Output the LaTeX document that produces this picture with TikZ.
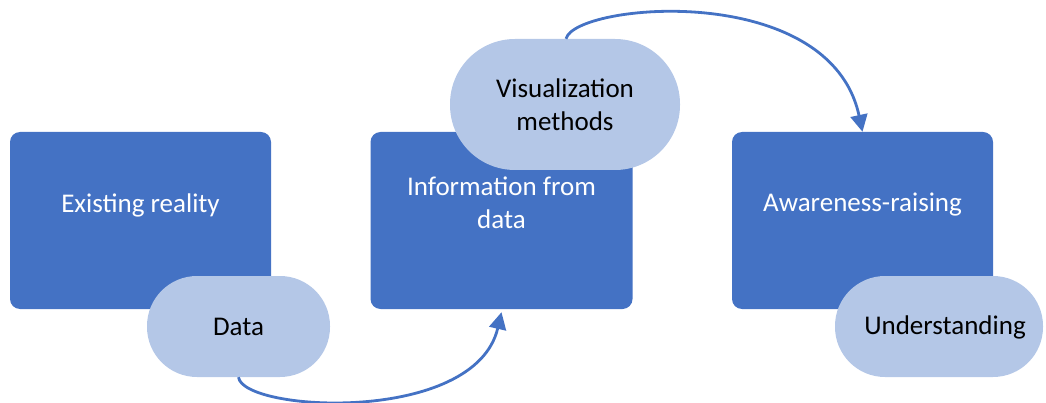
\documentclass[tikz,border=0pt]{standalone}
\usepackage{fontspec}
\setmainfont{Carlito}
\usetikzlibrary{arrows.meta}
\definecolor{boxblue}{HTML}{4472C4}
\definecolor{pillblue}{HTML}{B4C7E7}
\tikzset{
  stagebox/.style={fill=boxblue, draw=none, rounded corners=10pt, inner sep=0pt},
  pill/.style={fill=pillblue, draw=none, inner sep=0pt},
  boxtext/.style={text=white, align=center, font=\fontsize{27}{33}\selectfont},
  pilltext/.style={text=black, align=center, font=\fontsize{27}{33}\selectfont},
  flow/.style={draw=boxblue, line width=2.8pt, -{Triangle[length=17pt,width=17pt]}}
}
\begin{document}
\begin{tikzpicture}[x=1pt,y=-1pt]
\useasboundingbox (0,0) rectangle (1046,403);

% process stages
\node[stagebox, minimum width=261pt, minimum height=177pt] (reality) at (140.5,220.5) {};
\node[stagebox, minimum width=262pt, minimum height=177pt] (info) at (501.5,220.5) {};
\node[stagebox, minimum width=261pt, minimum height=177pt] (aware) at (862.5,220.5) {};

\node[boxtext] (realitytext) at (140.5,205) {Existing reality};
\node[boxtext] (infotext) at (501.5,203) {Information from\\data};
\node[boxtext] (awaretext) at (862.5,205) {Awareness-raising};

% transitions between the stages
\node[pill, minimum width=183pt, minimum height=101pt, rounded corners=50pt] (data) at (238.5,326.5) {};
\node[pilltext] (datatext) at (238.5,327) {Data};

\node[pill, minimum width=230pt, minimum height=131pt, rounded corners=65pt] (vis) at (565,104.5) {};
\node[pilltext] (vistext) at (565,105) {Visualization\\methods};

\node[pill, minimum width=208pt, minimum height=101pt, rounded corners=50pt] (under) at (939,326.5) {};
\node[pilltext] (undertext) at (945,327) {Understanding};

% connectors
\draw[flow] (data.south) .. controls (243,412) and (475,425) .. ([yshift=-3pt]info.south);
\draw[flow] ([xshift=1pt]vis.north) .. controls (575,3) and (830,-20) .. (aware.north);
\end{tikzpicture}
\end{document}
